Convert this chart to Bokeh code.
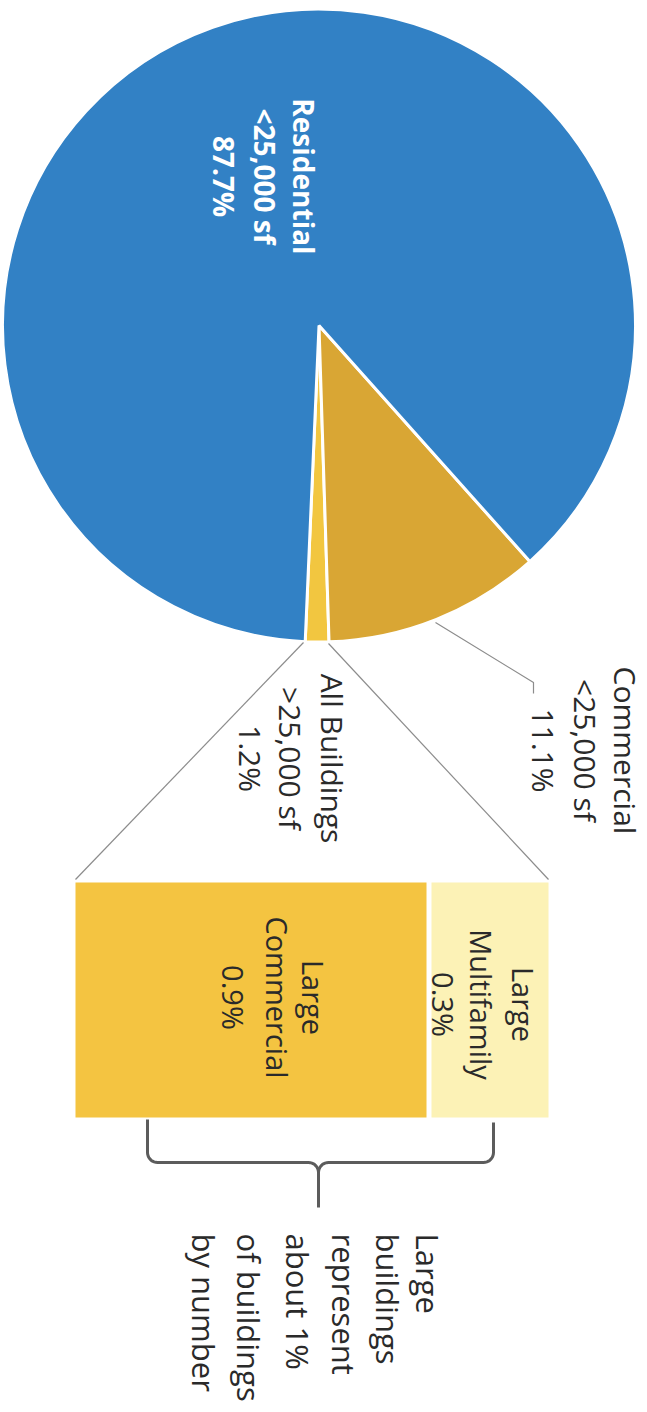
import numpy as np
from bokeh.plotting import figure
from bokeh.models import Range1d, ColumnDataSource
from bokeh.core.properties import value
from bokeh.embed import file_html
from bokeh.resources import INLINE

# ---------------- data ----------------
pie_names = ["All Buildings\n>25,000 sf", "Commercial\n<25,000 sf", "Residential\n<25,000 sf"]
pie_shares = [1.2, 11.1, 87.7]
pie_colors = ["#F2C640", "#D9A634", "#3281C5"]

sub_names = ["Large\nCommercial", "Large\nMultifamily"]
sub_shares = [0.9, 0.3]
sub_colors = ["#F4C441", "#FCF2B6"]

note_lines = ["Large", "buildings", "represent", "about 1%", "of buildings", "by number"]

# ---------------- layout helpers ----------------
W, H = 647, 1412
def X(px):
    return px
def Y(py):
    return H - py

FONT = value("Open Sans")
DARK = "#2a2a2a"

p = figure(width=W, height=H, output_backend="svg", toolbar_location=None,
           x_range=Range1d(0, W), y_range=Range1d(0, H), min_border=0)
p.axis.visible = False
p.grid.visible = False
p.outline_line_color = None
p.background_fill_color = "white"
p.border_fill_color = "white"

# ---------------- pie ----------------
cx, cy, R = X(318.5), Y(325), 316.5
start = np.deg2rad(-92.5)
fr = np.array(pie_shares) / np.sum(pie_shares)
ends = start + np.cumsum(fr) * 2 * np.pi
starts = np.concatenate([[start], ends[:-1]])
src = ColumnDataSource(dict(x=[cx] * 3, y=[cy] * 3, s=starts, e=ends, c=pie_colors))
p.wedge(x="x", y="y", radius=R, start_angle="s", end_angle="e", fill_color="c",
        line_color="white", line_width=3, source=src)

# ---------------- breakdown bars ----------------
gap = 5
x0 = X(75)
scale = (473 - gap) / sum(sub_shares)
lefts, rights = [], []
cur = x0
for v in sub_shares:
    lefts.append(cur)
    rights.append(cur + v * scale)
    cur = cur + v * scale + gap
p.quad(left=lefts, right=rights, top=[Y(882)] * 2, bottom=[Y(1117)] * 2,
       fill_color=sub_colors, line_color=None)

# ---------------- connector lines ----------------
p.segment(x0=[X(303), X(328)], y0=[Y(642), Y(643)], x1=[X(75), X(548)], y1=[Y(879), Y(879)],
          line_color="#8c8c8c", line_width=1.2)
p.line(x=[X(435), X(533), X(533)], y=[Y(622), Y(682), Y(693)], line_color="#8c8c8c", line_width=1.2)

# ---------------- text ----------------
ANG = -np.pi / 2

def label(lines, xs, ymid, color=DARK, size="30px", style="normal", align="center"):
    p.text(x=[X(v) for v in xs], y=[Y(ymid)] * len(lines), text=lines, angle=ANG,
           text_align=align, text_baseline="middle", text_color=color,
           text_font=FONT, text_font_size=size, text_font_style=style)

res_lines = pie_names[2].split("\n") + [f"{pie_shares[2]}%"]
com_lines = pie_names[1].split("\n") + [f"{pie_shares[1]}%"]
all_lines = pie_names[0].split("\n") + [f"{pie_shares[0]}%"]
label(res_lines, [303, 264, 223], 176, color="white", size="28px", style="bold")
label(com_lines, [625, 585, 543], 750)
label(all_lines, [332, 290, 250], 758)

lc_lines = sub_names[0].split("\n") + [f"{sub_shares[0]}%"]
mf_lines = sub_names[1].split("\n") + [f"{sub_shares[1]}%"]
label(lc_lines, [313, 277, 233], 997, size="29px")
label(mf_lines, [523, 481, 443], 1004, size="29px")

label(note_lines, [427, 387, 343, 297, 248, 203], 1233, size="31px", align="left")

# ---------------- bracket ----------------
r = 10
th = np.linspace(0, np.pi / 2, 10)
# left half
lx = [147, 147] + list(157 - r * np.cos(th)) + list(308 + r * np.sin(th)) + [318]
ly = [1119, 1152] + list(1152 + r * np.sin(th)) + list(1172 - r * np.cos(th)) + [1207]
# right half
rx = [493, 493] + list(483 + r * np.cos(th)) + list(328 - r * np.sin(th))
ry = [1122, 1152] + list(1152 + r * np.sin(th)) + list(1172 - r * np.cos(th))
p.multi_line(xs=[[X(v) for v in lx], [X(v) for v in rx]],
             ys=[[Y(v) for v in ly], [Y(v) for v in ry]],
             line_color="#5c5c5c", line_width=3)

open("out.html", "w").write(file_html(p, INLINE))
